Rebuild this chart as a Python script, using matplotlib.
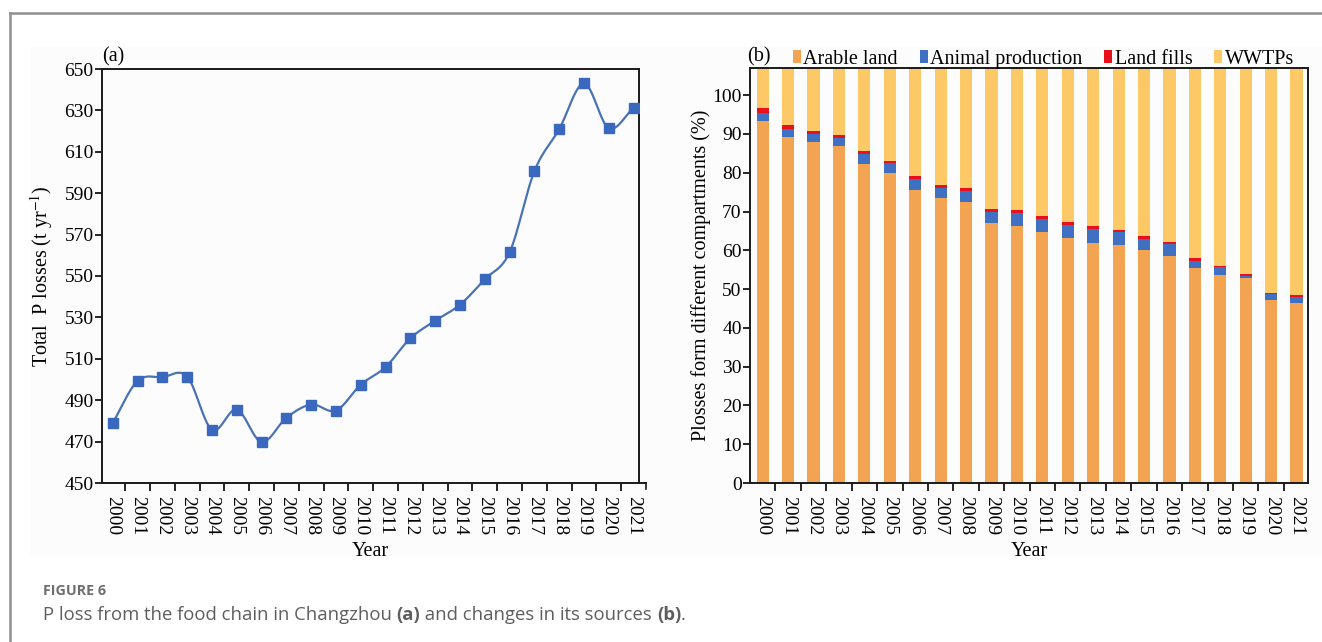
import numpy as np
import matplotlib.pyplot as plt
from matplotlib.lines import Line2D
from matplotlib.patches import Patch, Rectangle

plt.rcParams['font.family'] = ['Liberation Serif', 'DejaVu Serif']
plt.rcParams['mathtext.fontset'] = 'stix'

years = [str(y) for y in range(2000, 2022)]

# (a) total P losses, t/yr
total_p = [479.1, 499.3, 501.1, 501.4, 475.7, 485.5, 469.8, 481.5, 487.9, 485.0, 497.5,
           506.0, 519.9, 528.4, 536.1, 548.4, 561.4, 600.6, 620.9, 643.0, 621.4, 631.1]

# (b) share of P losses by source, %
arable = [93.4, 89.3, 87.8, 86.8, 82.3, 79.9, 75.6, 73.4, 72.5, 67.0, 66.2,
          64.7, 63.1, 62.0, 61.3, 60.0, 58.6, 55.4, 53.7, 52.8, 47.1, 46.4]
animal = [2.1, 2.1, 2.2, 2.2, 2.4, 2.5, 2.7, 2.7, 2.8, 2.9, 3.4,
          3.4, 3.4, 3.5, 3.4, 3.0, 2.9, 1.9, 1.9, 0.7, 1.6, 1.6]
landfill = [1.3, 0.8, 0.7, 0.7, 0.8, 0.7, 0.8, 0.8, 0.7, 0.8, 0.7,
            0.8, 0.7, 0.7, 0.6, 0.6, 0.6, 0.6, 0.4, 0.5, 0.4, 0.4]
wwtps = [3.2, 7.8, 9.3, 10.3, 14.5, 16.9, 20.9, 23.1, 24.0, 29.3, 29.7,
         31.1, 32.8, 33.8, 34.7, 36.4, 37.9, 42.1, 44.0, 46.0, 50.9, 51.6]

series_names = ['Arable land', 'Animal production', 'Land fills', 'WWTPs']
series_colors = ['#f2a453', '#3f70c1', '#e8101c', '#fdc967']


def catmull_rom(x, y, n=24):
    # smooth curve through every point, for drawing the line only
    x = np.asarray(x, float)
    y = np.asarray(y, float)
    px = np.concatenate([[2 * x[0] - x[1]], x, [2 * x[-1] - x[-2]]])
    py = np.concatenate([[2 * y[0] - y[1]], y, [2 * y[-1] - y[-2]]])
    t = np.linspace(0, 1, n)
    xs, ys = [], []
    for i in range(1, len(px) - 2):
        for p, out in ((px, xs), (py, ys)):
            p0, p1, p2, p3 = p[i - 1], p[i], p[i + 1], p[i + 2]
            out.append(0.5 * ((2 * p1) + (-p0 + p2) * t
                              + (2 * p0 - 5 * p1 + 4 * p2 - p3) * t ** 2
                              + (-p0 + 3 * p1 - 3 * p2 + p3) * t ** 3))
    return np.concatenate(xs), np.concatenate(ys)


W, H = 1322, 642
fig = plt.figure(figsize=(W / 100, H / 100), dpi=100)

# page frame and light panel backdrop
fig.add_artist(Rectangle((30 / W, (H - 556) / H), (W - 30) / W, (556 - 47) / H,
                         transform=fig.transFigure, color='#fcfcfc', zorder=-5, lw=0))
fig.add_artist(Line2D([10 / W, 10 / W], [0, (H - 13) / H], transform=fig.transFigure,
                      color='#8f8f8f', lw=1.8))
fig.add_artist(Line2D([10 / W, 1], [(H - 13) / H, (H - 13) / H], transform=fig.transFigure,
                      color='#8f8f8f', lw=1.8))

ax1 = fig.add_axes([102 / W, (H - 483) / H, (638.5 - 102) / W, (483 - 69) / H])
ax2 = fig.add_axes([750 / W, (H - 483) / H, (1308 - 750) / W, (483 - 68) / H])
for ax in (ax1, ax2):
    ax.patch.set_alpha(0)
    for sp in ax.spines.values():
        sp.set_linewidth(1.4)
        sp.set_color('#1a1a1a')

x = np.arange(len(years))

# ---- (a) line chart
sx, sy = catmull_rom(x, total_p)
ax1.plot(sx, sy, color='#4a72b4', lw=1.6, zorder=2)
ax1.plot(x, total_p, ls='none', marker='s', ms=7.5, color='#3a68be', zorder=3)
ax1.set_xlim(-0.435, 21.2)
ax1.set_ylim(450, 650)
ax1.set_yticks(np.arange(450, 651, 20))
ax1.set_xticks(x)
ax1.set_xticklabels(years, rotation=270)
ax1.set_xticks(np.arange(0.5, 21, 1), minor=True)
ax1.spines['bottom'].set_bounds(-0.435, 21.5)
ax1.plot([21.5, 21.5], [0, -0.014], transform=ax1.get_xaxis_transform(),
         color='#1a1a1a', lw=1.2, clip_on=False)
ax1.set_ylabel('Total  P losses (t yr$^{-1}$)', fontsize=14.5)
ax1.yaxis.set_label_coords(-0.088, 0.5)
ax1.set_xlabel('Year', fontsize=14.5, labelpad=5)
ax1.text(0.0, 1.005, '(a)', transform=ax1.transAxes, fontsize=14.5, ha='left', va='bottom')

# ---- (b) stacked bars
ytop = 107
ax2.set_ylim(0, ytop)
ax2.set_xlim(-0.5, 21.45)
bw = 0.48
base = np.zeros(len(years))
for vals, col in zip([arable, animal, landfill], series_colors[:3]):
    ax2.bar(x, vals, bw, bottom=base, color=col, lw=0)
    base += np.array(vals)
# WWTPs fill the rest of each column
ax2.bar(x, ytop - base, bw, bottom=base, color=series_colors[3], lw=0)
ax2.set_yticks(np.arange(0, 101, 10))
ax2.set_xticks(x)
ax2.set_xticklabels(years, rotation=270)
ax2.set_xticks(np.arange(0.5, 21, 1), minor=True)
ax2.set_ylabel('Plosses form different compartments (%)', fontsize=14.5)
ax2.yaxis.set_label_coords(-0.07, 0.5)
ax2.set_xlabel('Year', fontsize=14.5, labelpad=5)

handles = [Patch(color=c, lw=0) for c in series_colors]
ax2.legend(handles, series_names, ncol=4, loc='lower left', bbox_to_anchor=(0.077, 0.998),
           frameon=False, fontsize=14.5, handlelength=0.4, handleheight=0.62,
           handletextpad=0.12, columnspacing=1.08, borderaxespad=0, borderpad=0)
fig.text(747 / W, (H - 57) / H, '(b)', fontsize=14.5, ha='left', va='center')

for ax in (ax1, ax2):
    ax.tick_params(axis='x', which='major', length=0, pad=9, labelsize=14)
    ax.tick_params(axis='x', which='minor', length=6, width=1.2, direction='out')
    ax.tick_params(axis='y', length=5, width=1.2, direction='out', pad=1, labelsize=14)

# caption, pieces placed left to right so (a)/(b) can be bold
cap_font = ['Open Sans', 'DejaVu Sans']
fig.text(43 / W, (H - 595) / H, 'FIGURE 6', fontsize=10.3, fontweight='bold',
         color='#6e6e6e', family=cap_font, ha='left', va='baseline')
parts = [('P loss from the food chain in Changzhou ', 'normal'), ('(a)', 'bold'),
         (' and changes in its sources ', 'normal'), ('(b)', 'bold'), ('.', 'normal')]
renderer = fig.canvas.get_renderer()
x_cur = 43 / W
for txt, wt in parts:
    t = fig.text(x_cur, (H - 620) / H, txt, fontsize=13.3, color='#5e5e5e', family=cap_font,
                 fontweight=wt, ha='left', va='baseline')
    x_cur = t.get_window_extent(renderer).x1 / W

fig.savefig('out.png', dpi=100)
